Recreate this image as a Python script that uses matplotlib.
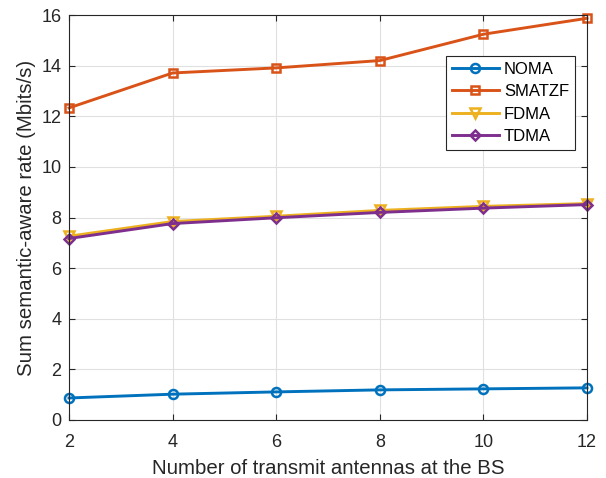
import matplotlib
matplotlib.use("Agg")
import matplotlib.pyplot as plt

plt.rcParams['font.family'] = ['Liberation Sans', 'DejaVu Sans']

# Data
antennas = [2, 4, 6, 8, 10, 12]
noma = [0.87, 1.02, 1.11, 1.19, 1.23, 1.27]
smatzf = [12.33, 13.71, 13.91, 14.20, 15.24, 15.87]
fdma = [7.26, 7.84, 8.05, 8.28, 8.44, 8.55]
tdma = [7.17, 7.76, 7.99, 8.20, 8.37, 8.51]

# name, values, colour, marker, marker size
series = [
    ('NOMA', noma, '#0072BD', 'o', 6.5),
    ('SMATZF', smatzf, '#D95319', 's', 5.5),
    ('FDMA', fdma, '#EDB120', 'v', 7.5),
    ('TDMA', tdma, '#7E2F8E', 'D', 5.5),
]

fig = plt.figure(figsize=(6.06, 4.78), dpi=100)
ax = fig.add_axes([69 / 606, 1 - 420 / 478, 518 / 606, 405 / 478])

for name, vals, color, marker, ms in series:
    ax.plot(antennas, vals, color=color, linewidth=2.1, marker=marker,
            markersize=ms, markerfacecolor='none', markeredgecolor=color,
            markeredgewidth=1.8, label=name, clip_on=False, zorder=3)

ax.set_xlim(2, 12)
ax.set_ylim(0, 16)
ax.set_xticks(antennas)
ax.set_yticks(range(0, 17, 2))
ax.grid(True, color='#e0e0e0', linewidth=0.8)
ax.set_axisbelow(True)
ax.tick_params(direction='in', top=True, right=True, labelsize=13,
               colors='#262626', length=4)
ax.tick_params(axis='x', pad=10)
ax.tick_params(axis='y', pad=5.5)
for sp in ax.spines.values():
    sp.set_color('#262626')
    sp.set_linewidth(0.8)
    sp.set_zorder(4)

ax.set_xlabel('Number of transmit antennas at the BS', fontsize=14.7,
              color='#262626', labelpad=5.5)
ax.set_ylabel('Sum semantic-aware rate (Mbits/s)', fontsize=14.7,
              color='#262626', labelpad=4)

leg = ax.legend(loc='upper right', bbox_to_anchor=(575 / 606, 1 - 56 / 478),
                bbox_transform=fig.transFigure, borderaxespad=0,
                fontsize=12, handlelength=2.85, fancybox=False,
                framealpha=1, edgecolor='#262626', labelspacing=0.45,
                handletextpad=0.3, borderpad=0.35)
leg.get_frame().set_linewidth(0.8)
leg.set_zorder(5)

fig.savefig('out.png', dpi=100)
